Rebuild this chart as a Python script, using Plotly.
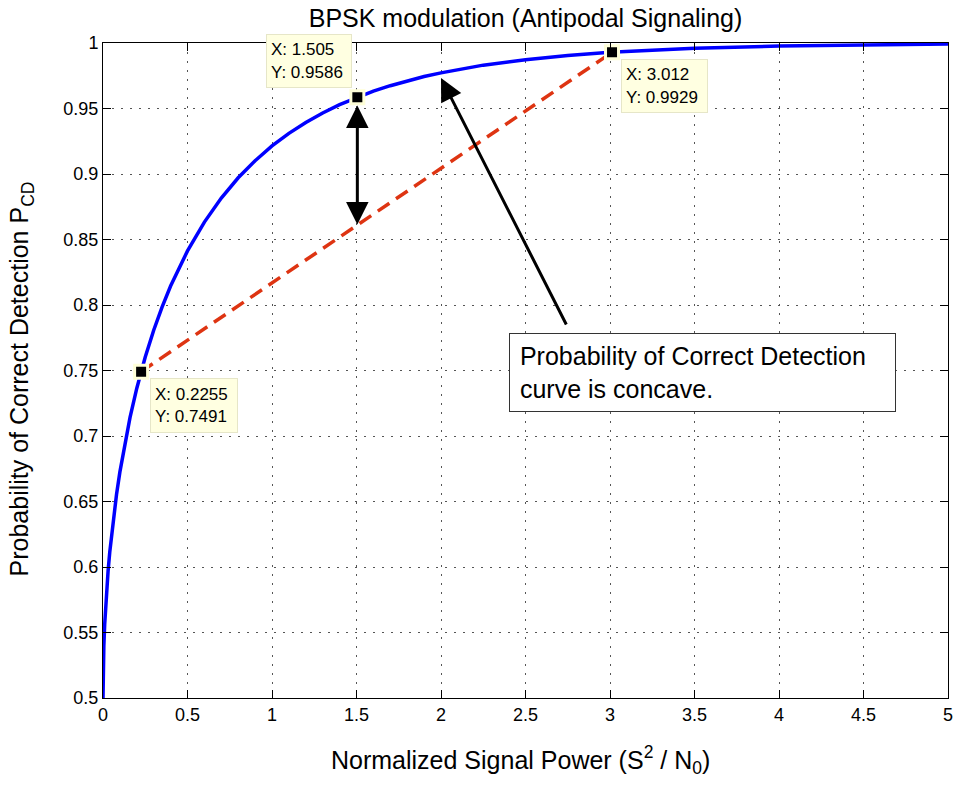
import plotly.graph_objects as go

# Curve values (P_CD vs S^2/N0)
snr = [0, 0.001, 0.003, 0.005, 0.01, 0.02, 0.03, 0.04, 0.06, 0.08, 0.1, 0.13, 0.16, 0.2,
       0.25, 0.3, 0.35, 0.4, 0.45, 0.5, 0.6, 0.7, 0.8, 0.9, 1.0, 1.1, 1.2, 1.3, 1.4, 1.5,
       1.6, 1.7, 1.8, 1.9, 2.0, 2.25, 2.5, 2.75, 3.0, 3.25, 3.5, 4.0, 4.5, 5.0]
pcd = [0.5, 0.5178, 0.5309, 0.5398, 0.5562, 0.5793, 0.5968, 0.6114, 0.6355, 0.6554, 0.6726,
       0.6949, 0.7142, 0.7365, 0.7603, 0.7807, 0.7986, 0.8145, 0.8286, 0.8413, 0.8633, 0.8816,
       0.8971, 0.9101, 0.9214, 0.9310, 0.9393, 0.9466, 0.9529, 0.9584, 0.9632, 0.9674, 0.9711,
       0.9744, 0.9772, 0.9831, 0.9873, 0.9905, 0.9929, 0.9946, 0.9959, 0.9977, 0.9987, 0.9992]

# Data tips
tip_x = [0.2255, 1.505, 3.012]
tip_y = [0.7491, 0.9586, 0.9929]

# Chord endpoints (red dashed)
chord_x = [0.2255, 3.012]
chord_y = [0.7491, 0.9929]

x_ticks = [0, 0.5, 1, 1.5, 2, 2.5, 3, 3.5, 4, 4.5, 5]
x_tick_text = ["0", "0.5", "1", "1.5", "2", "2.5", "3", "3.5", "4", "4.5", "5"]
y_ticks = [0.5, 0.55, 0.6, 0.65, 0.7, 0.75, 0.8, 0.85, 0.9, 0.95, 1]
y_tick_text = ["0.5", "0.55", "0.6", "0.65", "0.7", "0.75", "0.8", "0.85", "0.9", "0.95", "1"]

FONT = "Liberation Sans, Arial, Helvetica, sans-serif"

fig = go.Figure()
fig.add_trace(go.Scatter(x=snr, y=pcd, mode="lines",
                         line=dict(color="#0000FF", width=3.5), hoverinfo="skip"))
fig.add_trace(go.Scatter(x=chord_x, y=chord_y, mode="lines",
                         line=dict(color="rgb(222,52,18)", width=3.5, dash="14px,8px"),
                         hoverinfo="skip"))
fig.add_trace(go.Scatter(x=tip_x, y=tip_y, mode="markers",
                         marker=dict(symbol="square", size=13, color="black",
                                     line=dict(color="#FFFFD8", width=3)),
                         cliponaxis=False, hoverinfo="skip"))

anns = []
# data tip boxes
tip_cfg = [
    dict(xanchor="left", yanchor="top", xshift=9, yshift=-6, width=78, height=45),
    dict(xanchor="right", yanchor="bottom", xshift=-5, yshift=9, width=76, height=44),
    dict(xanchor="left", yanchor="top", xshift=9, yshift=-7, width=77, height=44),
]
for tx, ty, cfg in zip(tip_x, tip_y, tip_cfg):
    anns.append(dict(x=tx, y=ty, xref="x", yref="y", showarrow=False,
                     text=f"X: {tx}<br>Y: {ty}", align="left", valign="middle",
                     font=dict(family=FONT, size=17, color="black"),
                     bgcolor="#FFFFE1", bordercolor="#E6E6C8", borderwidth=1, borderpad=4,
                     **cfg))

# double-headed arrow between curve and chord
anns.append(dict(x=1.505, y=0.8615, ax=1.505, ay=0.9535, xref="x", yref="y",
                 axref="x", ayref="y", text="", showarrow=True, arrowhead=2,
                 arrowside="end+start", arrowsize=1.5, arrowwidth=3, arrowcolor="black",
                 startarrowhead=2, startarrowsize=1.5))
# pointer arrow to the curve
anns.append(dict(x=2.0, y=0.9733, ax=2.746, ay=0.784, xref="x", yref="y",
                 axref="x", ayref="y", text="", showarrow=True, arrowhead=2,
                 arrowsize=1.5, arrowwidth=3, arrowcolor="black"))

# text box
anns.append(dict(x=0.4805, y=0.5573, xref="paper", yref="paper", xanchor="left", yanchor="top",
                 showarrow=False, align="left", valign="middle",
                 text="&nbsp;Probability of Correct Detection<br>&nbsp;curve is concave.",
                 font=dict(family=FONT, size=25, color="black"),
                 bgcolor="white", bordercolor="#333333", borderwidth=1, borderpad=3,
                 width=379, height=71))

# axis labels
anns.append(dict(x=-0.0959, y=0.4878, xref="paper", yref="paper", showarrow=False,
                 textangle=-90, xanchor="center", yanchor="middle",
                 text="Probability of Correct Detection P<sub>CD</sub>",
                 font=dict(family=FONT, size=25, color="black")))
anns.append(dict(x=0.4941, y=-0.0947, xref="paper", yref="paper", showarrow=False,
                 xanchor="center", yanchor="middle",
                 text="Normalized Signal Power (S<sup>2</sup> / N<sub>0</sub>)",
                 font=dict(family=FONT, size=25, color="black")))

fig.update_layout(
    width=956, height=787,
    margin=dict(l=103, r=8, t=43, b=89),
    paper_bgcolor="white", plot_bgcolor="white",
    showlegend=False,
    title=dict(text="BPSK modulation (Antipodal Signaling)", x=0.5497, xanchor="center",
               y=0.977, yanchor="middle", font=dict(family=FONT, size=25, color="black")),
    annotations=anns,
    font=dict(family=FONT, size=18, color="black"),
)
axis_common = dict(showline=True, linecolor="black", linewidth=1, mirror="ticks",
                   ticks="inside", ticklen=8, tickcolor="black", tickwidth=1,
                   showgrid=True, gridcolor="#555555", gridwidth=1, griddash="2px,7px",
                   zeroline=False, automargin=False, ticklabeloverflow="allow",
                   tickfont=dict(family=FONT, size=18, color="black"))
fig.update_xaxes(range=[0, 5], tickvals=x_ticks, ticktext=x_tick_text, **axis_common)
fig.update_yaxes(range=[0.5, 1], tickvals=y_ticks, ticktext=y_tick_text, **axis_common)

fig.write_html("out.html")
